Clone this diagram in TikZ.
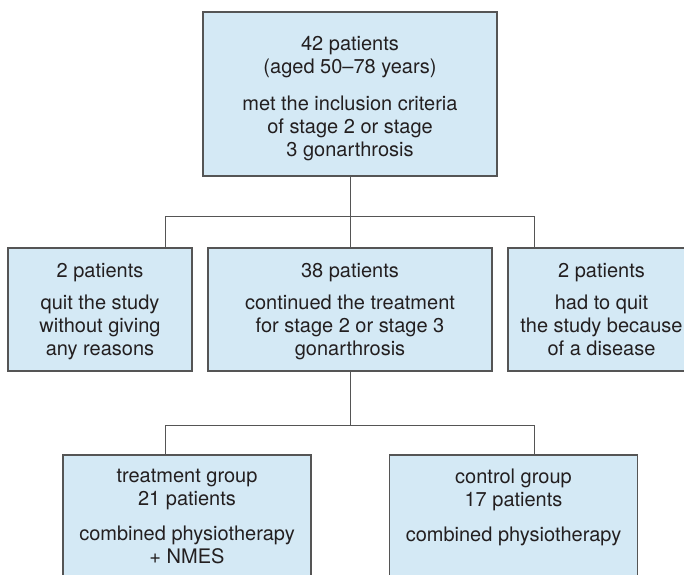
\documentclass[tikz,border=0pt]{standalone}
\usepackage{fontspec}
\setmainfont{TeX Gyre Heros}
\definecolor{boxfill}{HTML}{D4E9F5}
\definecolor{boxline}{HTML}{555555}
\definecolor{txt}{HTML}{231F20}
\begin{document}
\begin{tikzpicture}[x=1pt,y=-1pt,
  box/.style={draw=boxline,line width=1.1pt,fill=boxfill,inner sep=0pt},
  boxtext/.style={inner sep=0pt,align=center,text=txt,font=\fontsize{20}{23}\selectfont},
  conn/.style={draw=boxline,line width=1pt}]
\useasboundingbox (0,0) rectangle (684,574);
\clip (0,0) rectangle (684,574);
\node[box,minimum width=294pt,minimum height=164pt] (top) at (350,94) {};
\node[boxtext,yshift=-5pt] (topT) at (top.center)
  {42 patients\\(aged 50–78 years)\\[14pt]met the inclusion criteria\\of stage 2 or stage\\3 gonarthrosis};
\node[box,minimum width=184pt,minimum height=123pt] (left) at (100,309.5) {};
\node[boxtext,yshift=-2.5pt] (leftT) at (left.center)
  {2 patients\\[9pt]quit the study\\without giving\\any reasons};
\node[box,minimum width=284pt,minimum height=123pt] (mid) at (350,309.5) {};
\node[boxtext,yshift=-2.5pt] (midT) at (mid.center)
  {38 patients\\[9pt]continued the treatment\\for stage 2 or stage 3\\gonarthrosis};
\node[box,minimum width=187pt,minimum height=123pt] (right) at (601.5,309.5) {};
\node[boxtext,yshift=-0.5pt] (rightT) at (right.center)
  {2 patients\\[9pt]had to quit\\the study because\\of a disease};
\node[box,minimum width=248pt,minimum height=123pt] (tg) at (187,516.5) {};
\node[boxtext] (tgT) at (tg.center)
  {treatment group\\21 patients\\[12pt]combined physiotherapy\\+ NMES};
\node[box,minimum width=248pt,minimum height=123pt] (cg) at (513.5,516.5) {};
\node[boxtext] (cgT) at (cg.center)
  {control group\\17 patients\\[12pt]combined physiotherapy\\\phantom{+ NMES}};
\coordinate (h1l) at (165,216);
\coordinate (h1r) at (534,216);
\coordinate (h2l) at (165,425);
\coordinate (h2r) at (534,425);
\draw[conn] (top.south) -- (mid.north);
\draw[conn] (left.north -| h1l) -- (h1l) -- (h1r) -- (right.north -| h1r);
\draw[conn] (mid.south) -- (mid.south |- h2l);
\draw[conn] (tg.north -| h2l) -- (h2l) -- (h2r) -- (cg.north -| h2r);
\end{tikzpicture}
\end{document}
